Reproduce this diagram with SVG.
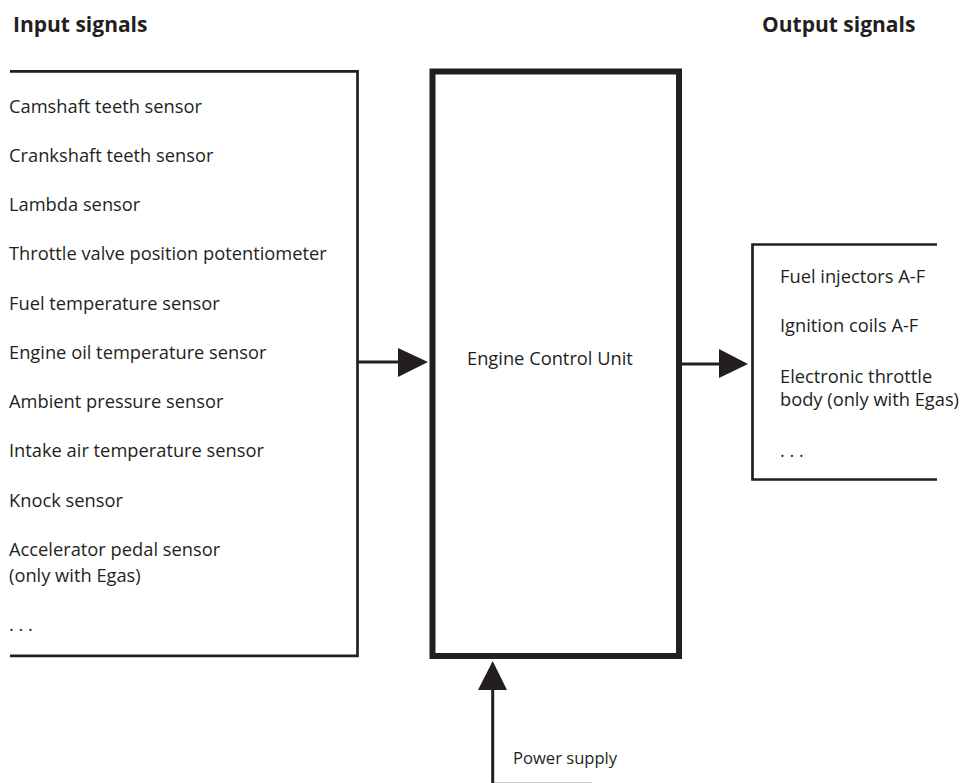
<svg xmlns="http://www.w3.org/2000/svg" width="967" height="783" viewBox="0 0 967 783">
<style>
text{font-family:"Open Sans","Liberation Sans",sans-serif;fill:#231f20;font-size:18.3px}
.h{font-weight:bold;font-size:21px}
.s{font-size:16.6px}
.box{fill:none;stroke:#231f20;stroke-width:2.7}
.ecu{fill:none;stroke:#231f20;stroke-width:6}
.ln{stroke:#231f20;stroke-width:3;fill:none}
.ah{fill:#231f20}
</style>
<rect width="967" height="783" fill="#fff"/>
<g id="headings">
<text class="h" x="13" y="32">Input signals</text>
<text class="h" x="762" y="32">Output signals</text>
</g>
<g id="inputs">
<path class="box" d="M10,71.3 H357.5 V655.8 H10"/>
<text x="9" y="113">Camshaft teeth sensor</text>
<text x="9" y="162">Crankshaft teeth sensor</text>
<text x="9" y="211">Lambda sensor</text>
<text x="9" y="260">Throttle valve position potentiometer</text>
<text x="9" y="310">Fuel temperature sensor</text>
<text x="9" y="359">Engine oil temperature sensor</text>
<text x="9" y="408">Ambient pressure sensor</text>
<text x="9" y="457">Intake air temperature sensor</text>
<text x="9" y="507">Knock sensor</text>
<text x="9" y="556">Accelerator pedal sensor</text>
<text x="9" y="582">(only with Egas)</text>
<text x="9" y="631">. . .</text>
</g>
<g id="ecu">
<rect class="ecu" x="432.5" y="71.5" width="246.5" height="584.5"/>
<text x="467" y="365">Engine Control Unit</text>
</g>
<g id="outputs">
<path class="box" d="M937,244.5 H752.5 V479.5 H937"/>
<text x="780" y="283">Fuel injectors A-F</text>
<text x="780" y="332">Ignition coils A-F</text>
<text x="780" y="383">Electronic throttle</text>
<text x="780" y="406">body (only with Egas)</text>
<text x="780" y="457">. . .</text>
</g>
<g id="power">
<text class="s" x="513" y="764">Power supply</text>
<line x1="494" y1="782.5" x2="592" y2="782.5" stroke="#c8c8c8" stroke-width="1"/>
</g>
<g id="connectors">
<line class="ln" x1="357.5" y1="362" x2="399" y2="362"/>
<polygon class="ah" points="398,348 428,362 398,377"/>
<line class="ln" x1="679" y1="364" x2="720" y2="364"/>
<polygon class="ah" points="719,349 748,364 719,378"/>
<line class="ln" x1="492.7" y1="783" x2="492.7" y2="689"/>
<polygon class="ah" points="478,690 492.7,661 507,690"/>
</g>
</svg>
